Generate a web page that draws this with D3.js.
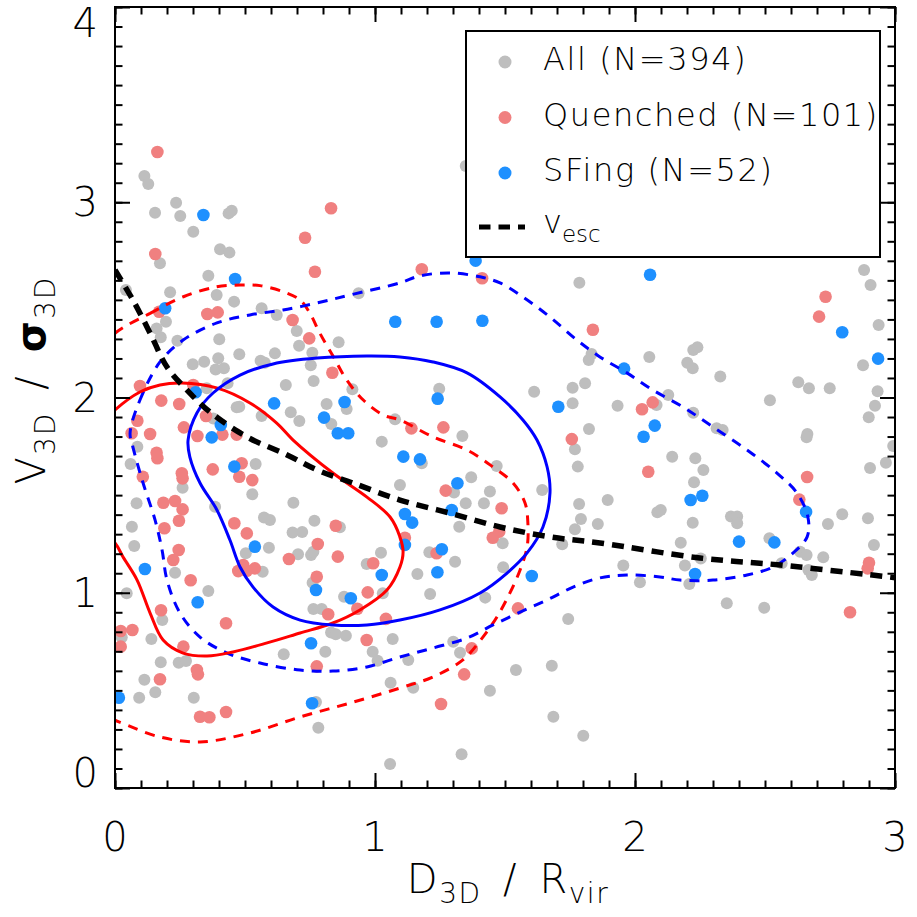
<!DOCTYPE html>
<html>
<head>
<meta charset="utf-8">
<script src="https://cdn.jsdelivr.net/npm/d3@7"></script>
<style>
  body { margin: 0; background: #fff; }
  text { font-family: "DejaVu Sans", "Liberation Sans", sans-serif; font-weight: 200; fill: #000; }
</style>
</head>
<body>
<svg id="chart" width="917" height="917"></svg>
<script>
// all galaxies (grey), [D3D/Rvir, V3D/sigma3D]
const allPts = [
  [0.113,3.134],[0.128,3.093],[0.235,2.998],[0.154,2.946],[0.251,2.930],[0.437,2.943],[0.449,2.957],
  [0.301,2.849],[0.173,2.687],[0.404,2.759],[0.440,2.742],[0.359,2.624],[0.042,2.551],[0.212,2.539],
  [0.391,2.525],[0.458,2.491],[0.564,2.457],[0.622,2.423],[0.196,2.388],[0.160,2.354],[0.176,2.308],
  [0.240,2.291],[0.401,2.298],[0.699,2.341],[0.708,2.265],[0.860,2.283],[0.937,2.534],[0.478,2.221],
  [0.615,2.226],[0.759,2.229],[0.299,2.170],[0.343,2.183],[0.397,2.201],[0.387,2.144],[0.419,2.150],
  [0.560,2.188],[0.576,2.178],[0.753,2.165],[0.764,2.085],[0.657,2.064],[0.353,2.047],[0.433,2.073],
  [0.814,1.967],[0.891,1.941],[0.913,2.042],[0.676,1.924],[0.709,1.880],[0.832,1.864],[0.468,1.950],
  [0.478,1.953],[0.564,1.905],[0.378,1.893],[1.077,1.888],[1.026,1.774],
  [0.086,1.748],[0.060,1.659],[0.260,1.538],[0.541,1.659],[0.528,1.504],[0.083,1.458],[0.385,1.441],
  [0.686,1.461],[0.573,1.386],[0.596,1.373],[0.767,1.369],[0.065,1.338],[0.683,1.308],[0.720,1.311],
  [0.865,1.335],[0.074,1.239],[0.592,1.231],[0.503,1.202],[0.754,1.193],[0.763,1.210],[0.704,1.197],
  [0.568,1.108],[0.231,1.103],[1.023,1.205],[0.968,1.147],[0.760,1.051],[0.045,0.997],[0.359,1.009],
  [0.881,0.980],[1.030,0.997],[0.182,0.860],[0.763,0.917],[0.795,0.917],[0.026,0.772],[0.140,0.763],
  [0.831,0.797],[0.849,0.787],[0.888,0.780],[1.068,0.763],[0.809,0.698],[0.991,0.698],[1.010,0.652],
  [0.649,0.685],[0.176,0.644],[0.245,0.642],[0.273,0.650],[0.113,0.555],[0.155,0.490],[0.093,0.462],
  [0.303,0.462],[1.060,0.539],[0.773,0.440],[0.782,0.309],[1.058,0.123],
  [1.349,3.186],[1.786,2.588],[2.224,2.243],[2.240,2.257],[2.201,2.178],[2.222,2.150],[2.055,2.207],
  [1.822,2.192],[1.833,2.223],[1.247,2.045],[1.612,2.030],[1.760,2.050],[1.808,2.073],[1.760,1.970],
  [1.933,1.958],[2.128,2.013],[2.083,1.962],[1.823,1.839],[1.336,1.803],[2.224,1.922],
  [1.769,1.735],[1.180,1.663],[1.468,1.649],[1.780,1.646],[2.143,1.697],[2.232,1.689],[2.227,1.566],
  [1.370,1.591],[1.304,1.514],[1.442,1.518],[1.643,1.526],[1.096,1.552],[1.895,1.475],[1.785,1.455],
  [1.349,1.458],[1.419,1.458],[2.086,1.412],[2.099,1.424],[1.324,1.338],[1.792,1.378],[1.857,1.352],
  [1.769,1.325],[2.222,1.359],[1.491,1.253],[1.720,1.248],[2.176,1.256],[1.209,1.207],[1.308,1.159],
  [1.955,1.139],[2.192,1.139],[1.493,1.130],[1.163,1.096],[2.019,1.054],[2.209,1.045],[1.212,0.994],
  [1.424,0.975],[1.743,0.866],[1.301,0.749],[1.327,0.693],[1.128,0.656],[1.542,0.604],[1.680,0.626],
  [1.147,0.514],[1.442,0.498],[1.686,0.365],[1.801,0.268],[1.333,0.173],
  [2.881,2.653],[2.906,2.576],[2.937,2.371],[2.877,2.165],[2.328,2.107],[2.628,2.078],[2.669,2.047],
  [2.749,2.047],[2.933,2.032],[2.923,1.958],[2.899,1.899],[2.519,1.986],[2.314,1.842],[2.337,1.834],
  [2.663,1.813],[2.660,1.796],[2.993,1.752],[2.965,1.666],[2.904,1.639],[2.263,1.629],[2.369,1.390],
  [2.393,1.390],[2.393,1.356],[2.797,1.402],[2.742,1.352],[2.896,1.381],[2.517,1.279],[2.919,1.245],
  [2.635,1.210],[2.660,1.193],[2.724,1.182],[2.253,1.176],[2.564,1.151],[2.667,1.117],[2.680,1.091],
  [2.353,0.946],[2.497,0.923]
];

// quenched (pink)
const quenchedPts = [
  [0.163,3.257],[0.831,2.969],[0.731,2.818],[0.769,2.644],[0.155,2.735],[0.170,2.439],[0.355,2.428],
  [0.395,2.436],[0.683,2.397],[0.747,2.303],[0.836,2.127],[0.096,2.059],[0.301,2.064],[0.178,1.984],
  [0.247,1.967],[0.350,1.905],[0.086,1.881],[0.265,1.847],[0.064,1.817],[0.135,1.813],[0.317,1.803],
  [0.413,1.810],[0.468,1.810],
  [0.160,1.717],[0.163,1.689],[0.107,1.594],[0.257,1.612],[0.260,1.586],[0.376,1.632],[0.487,1.663],
  [0.478,1.594],[0.528,1.577],[0.186,1.461],[0.231,1.470],[0.260,1.427],[0.246,1.369],[0.190,1.330],
  [0.459,1.356],[0.507,1.304],[0.849,1.343],[0.245,1.219],[0.224,1.168],[0.780,1.250],[0.669,1.173],
  [0.857,1.185],[0.493,1.142],[0.474,1.111],[0.538,1.125],[0.507,1.113],[0.993,1.151],[0.291,1.064],
  [0.776,1.082],[0.972,1.002],[0.177,0.910],[0.820,0.890],[0.932,0.918],[0.427,0.844],[0.022,0.804],
  [0.067,0.809],[0.022,0.724],[1.042,0.866],[0.968,0.758],[0.263,0.724],[0.315,0.604],[0.319,0.582],
  [0.776,0.623],[0.173,0.557],[0.327,0.365],[0.363,0.362],[0.427,0.389],
  [1.180,2.657],[1.412,2.611],[1.838,2.347],[2.068,1.975],[2.027,1.940],[1.140,1.842],[1.263,1.847],
  [1.757,1.787],[2.051,1.620],[1.272,1.523],[1.487,1.433],[1.478,1.313],[1.453,1.282],[1.115,1.282],
  [1.237,1.202],[1.550,0.920],[1.372,0.715],[1.343,0.582],[1.254,0.430],
  [2.733,2.516],[2.708,2.414],[2.662,1.593],[2.632,1.477],[2.900,1.154],[2.895,1.125],[2.827,0.900]
];

// star-forming (blue)
const sfingPts = [
  [0.340,2.935],[0.462,2.607],[0.193,2.457],[1.078,2.388],[1.237,2.388],[1.413,2.393],[1.387,2.701],
  [2.058,2.629],[0.310,2.027],[0.612,1.970],[0.883,1.977],[0.804,1.897],[0.857,1.817],[0.897,1.817],
  [0.407,1.859],[0.372,1.796],[0.459,1.646],[0.538,1.236],[0.115,1.122],[1.026,1.091],[0.773,1.014],
  [0.318,0.951],[0.907,0.972],[0.754,0.741],[0.015,0.462],[0.758,0.434],[1.958,2.148],[1.241,1.994],
  [1.705,1.953],[2.076,1.856],[2.033,1.799],[1.109,1.697],[1.173,1.683],[1.317,1.561],[1.295,1.424],
  [2.214,1.475],[1.115,1.403],[1.143,1.359],[1.115,1.245],[1.257,1.223],[1.240,1.105],[1.603,1.086],
  [2.231,1.096],[2.797,2.334],[2.935,2.199],[2.658,1.414],[2.259,1.497],[2.400,1.262],[2.536,1.258]
];

// density contours
const quenchedInner = [
  [0,1.936],[0.096,2.028],[0.173,2.064],[0.258,2.074],[0.391,2.049],[0.519,1.972],[0.622,1.869],
  [0.685,1.782],[0.838,1.613],[0.969,1.490],[1.058,1.388],[1.096,1.286],[1.108,1.209],[1.096,1.132],
  [1.046,1.014],[0.942,0.912],[0.838,0.845],[0.712,0.794],[0.585,0.743],[0.454,0.697],[0.354,0.676],
  [0.262,0.691],[0.185,0.758],[0.135,0.896],[0.085,1.065],[0.031,1.183],[0,1.255],[-0.06,1.32],[-0.06,1.85]
];
const quenchedOuter = [
  [0,2.329],[0.135,2.431],[0.263,2.516],[0.391,2.567],[0.481,2.576],[0.558,2.573],[0.647,2.542],
  [0.712,2.499],[0.750,2.431],[0.788,2.329],[0.840,2.209],[0.891,2.090],[0.955,1.987],[1.032,1.910],
  [1.096,1.885],[1.223,1.798],[1.354,1.731],[1.454,1.644],[1.531,1.562],[1.577,1.460],[1.588,1.357],
  [1.585,1.234],[1.558,1.117],[1.519,0.999],[1.469,0.876],[1.415,0.773],[1.338,0.656],[1.223,0.569],
  [1.096,0.512],[0.904,0.435],[0.712,0.364],[0.519,0.282],[0.327,0.236],[0.173,0.261],[0.027,0.333],
  [0,0.348],[-0.08,0.42],[-0.1,1.3],[-0.08,2.2]
];
const sfingInner = [
  [0.281,1.782],[0.315,1.921],[0.377,2.023],[0.481,2.115],[0.608,2.172],[0.777,2.202],[0.969,2.213],
  [1.096,2.208],[1.223,2.182],[1.354,2.126],[1.481,2.003],[1.569,1.885],[1.623,1.782],[1.662,1.644],
  [1.673,1.511],[1.646,1.337],[1.585,1.204],[1.508,1.101],[1.404,0.999],[1.250,0.912],[1.096,0.860],
  [0.969,0.835],[0.838,0.835],[0.712,0.860],[0.608,0.927],[0.531,1.029],[0.481,1.132],[0.442,1.270],
  [0.392,1.424],[0.327,1.562],[0.288,1.695]
];
const sfingOuter = [
  [0.058,1.818],[0.096,1.987],[0.173,2.182],[0.262,2.294],[0.392,2.382],[0.519,2.423],[0.646,2.448],
  [0.777,2.484],[0.904,2.525],[1.096,2.587],[1.173,2.623],[1.288,2.638],[1.404,2.618],[1.481,2.587],
  [1.569,2.515],[1.673,2.412],[1.777,2.294],[1.865,2.208],[1.969,2.126],[2.069,2.038],[2.185,1.951],
  [2.300,1.849],[2.431,1.731],[2.546,1.613],[2.623,1.511],[2.665,1.388],[2.662,1.286],[2.608,1.204],
  [2.531,1.132],[2.431,1.091],[2.300,1.065],[2.173,1.065],[2.096,1.081],[1.969,1.091],[1.865,1.076],
  [1.762,1.029],[1.662,0.963],[1.558,0.901],[1.454,0.835],[1.354,0.768],[1.223,0.717],[1.096,0.671],
  [0.969,0.620],[0.838,0.599],[0.712,0.604],[0.558,0.640],[0.431,0.691],[0.327,0.773],[0.250,0.896],
  [0.200,1.065],[0.181,1.219],[0.154,1.373],[0.108,1.562],[0.069,1.746]
];

// escape velocity curve
const vescCurve = [
  [0,2.653],[0.069,2.499],[0.135,2.330],[0.200,2.156],[0.277,2.038],[0.365,1.926],[0.508,1.798],
  [0.662,1.706],[0.777,1.629],[0.915,1.562],[1.096,1.475],[1.288,1.408],[1.481,1.337],[1.673,1.286],
  [1.865,1.255],[2.250,1.178],[2.558,1.142],[3.008,1.076]
];

const xTicks = [0, 1, 2, 3];
const yTicks = [0, 1, 2, 3, 4];
const legendLabels = ['All (N=394)', 'Quenched (N=101)', 'SFing (N=52)'];
const legendColors = ['#bebebe', '#f08080', '#1e90ff'];

const svg = d3.select('#chart');
const plotLeft = 115, plotRight = 895, plotTop = 7, plotBottom = 788;

const x = d3.scaleLinear().domain([0, 3]).range([plotLeft, plotRight]);
const y = d3.scaleLinear().domain([0, 4]).range([plotBottom, plotTop]);

svg.append('defs').append('clipPath')
    .attr('id', 'plotclip')
  .append('rect')
    .attr('x', plotLeft).attr('y', plotTop)
    .attr('width', plotRight - plotLeft).attr('height', plotBottom - plotTop);

const plot = svg.append('g').attr('clip-path', 'url(#plotclip)');

function drawDots(data, color, r) {
  plot.append('g')
    .selectAll('circle')
    .data(data)
    .join('circle')
      .attr('cx', d => x(d[0]))
      .attr('cy', d => y(d[1]))
      .attr('r', r)
      .attr('fill', color);
}
drawDots(allPts, legendColors[0], 6);
drawDots(quenchedPts, legendColors[1], 6.3);
drawDots(sfingPts, legendColors[2], 6.3);

const closedLine = d3.line()
  .x(d => x(d[0]))
  .y(d => y(d[1]))
  .curve(d3.curveCatmullRomClosed.alpha(0.5));

function drawContour(data, color, dashed) {
  plot.append('path')
    .datum(data)
    .attr('d', closedLine)
    .attr('fill', 'none')
    .attr('stroke', color)
    .attr('stroke-width', 3)
    .attr('stroke-dasharray', dashed ? '10,8' : null);
}
drawContour(quenchedOuter, '#ff0000', true);
drawContour(sfingOuter, '#0000ff', true);
drawContour(quenchedInner, '#ff0000', false);
drawContour(sfingInner, '#0000ff', false);

plot.append('path')
  .datum(vescCurve)
  .attr('d', d3.line().x(d => x(d[0])).y(d => y(d[1])).curve(d3.curveCatmullRom.alpha(0.5)))
  .attr('fill', 'none')
  .attr('stroke', '#000')
  .attr('stroke-width', 5.5)
  .attr('stroke-dasharray', '12,8');

// axes: ticks point inward on all four sides
const xMinor = d3.range(0, 3.0001, 0.1);
const yMinor = d3.range(0, 4.0001, 0.1);

function axisLayer(axisFn, scale, values, size, transform) {
  svg.append('g')
    .attr('transform', transform)
    .call(axisFn(scale).tickValues(values).tickSize(size).tickFormat(''))
    .call(g => g.select('.domain').remove())
    .call(g => g.selectAll('line').attr('stroke', '#000').attr('stroke-width', 2));
}
axisLayer(d3.axisTop, x, xMinor, 7.5, `translate(0,${plotBottom})`);
axisLayer(d3.axisTop, x, xTicks, 15, `translate(0,${plotBottom})`);
axisLayer(d3.axisBottom, x, xMinor, 7.5, `translate(0,${plotTop})`);
axisLayer(d3.axisBottom, x, xTicks, 15, `translate(0,${plotTop})`);
axisLayer(d3.axisRight, y, yMinor, 7.5, `translate(${plotLeft},0)`);
axisLayer(d3.axisRight, y, yTicks, 15, `translate(${plotLeft},0)`);
axisLayer(d3.axisLeft, y, yMinor, 7.5, `translate(${plotRight},0)`);
axisLayer(d3.axisLeft, y, yTicks, 15, `translate(${plotRight},0)`);

svg.append('rect')
  .attr('x', plotLeft).attr('y', plotTop)
  .attr('width', plotRight - plotLeft).attr('height', plotBottom - plotTop)
  .attr('fill', 'none')
  .attr('stroke', '#000')
  .attr('stroke-width', 2);

// tick labels
svg.append('g')
  .selectAll('text')
  .data(xTicks)
  .join('text')
    .attr('x', d => x(d))
    .attr('y', 851)
    .attr('text-anchor', 'middle')
    .style('font-size', '40px')
    .text(d => d);

svg.append('g')
  .selectAll('text')
  .data(yTicks)
  .join('text')
    .attr('x', 98)
    .attr('y', d => Math.min(Math.max(y(d), plotTop + 16), plotBottom - 15) + 14)
    .attr('text-anchor', 'end')
    .style('font-size', '40px')
    .text(d => d);

// axis titles
const xTitle = svg.append('text')
  .attr('x', 508)
  .attr('y', 893)
  .attr('text-anchor', 'middle')
  .style('font-size', '40px')
  .style('letter-spacing', '1.5px');
xTitle.append('tspan').text('D');
xTitle.append('tspan').attr('dy', 10).style('font-size', '28px').text('3D');
xTitle.append('tspan').attr('dy', -10).text('\u2002/\u2002R');
xTitle.append('tspan').attr('dy', 10).style('font-size', '28px').text('vir');

const yTitle = svg.append('text')
  .attr('transform', 'translate(45,380) rotate(-90)')
  .attr('text-anchor', 'middle')
  .style('font-size', '40px')
  .style('letter-spacing', '2px');
yTitle.append('tspan').text('V');
yTitle.append('tspan').attr('dy', 10).style('font-size', '28px').text('3D');
yTitle.append('tspan').attr('dy', -10).text('\u2002/\u2002');
yTitle.append('tspan').style('font-weight', 'bold').text('σ');
yTitle.append('tspan').attr('dy', 10).style('font-size', '28px').text('3D');

// legend
const legend = svg.append('g');
legend.append('rect')
  .attr('x', 466).attr('y', 31)
  .attr('width', 414).attr('height', 226)
  .attr('fill', '#fff')
  .attr('stroke', '#000')
  .attr('stroke-width', 2);

const legendRows = legend.selectAll('g.row')
  .data(legendLabels)
  .join('g')
    .attr('class', 'row')
    .attr('transform', (d, i) => `translate(0,${62 + i * 55.5})`);
legendRows.append('circle')
  .attr('cx', 505)
  .attr('r', 6.5)
  .attr('fill', (d, i) => legendColors[i]);
legendRows.append('text')
  .attr('x', 543)
  .attr('y', 8)
  .style('font-size', '32px')
  .style('letter-spacing', '1.6px')
  .text(d => d);

legend.append('line')
  .attr('x1', 479).attr('x2', 525)
  .attr('y1', 227).attr('y2', 227)
  .attr('stroke', '#000')
  .attr('stroke-width', 5)
  .attr('stroke-dasharray', '11.5,8');
const vescLabel = legend.append('text')
  .attr('x', 543)
  .attr('y', 233)
  .style('font-size', '32px');
vescLabel.append('tspan').text('v');
vescLabel.append('tspan').attr('dy', 9).style('font-size', '23px').text('esc');
</script>
</body>
</html>
